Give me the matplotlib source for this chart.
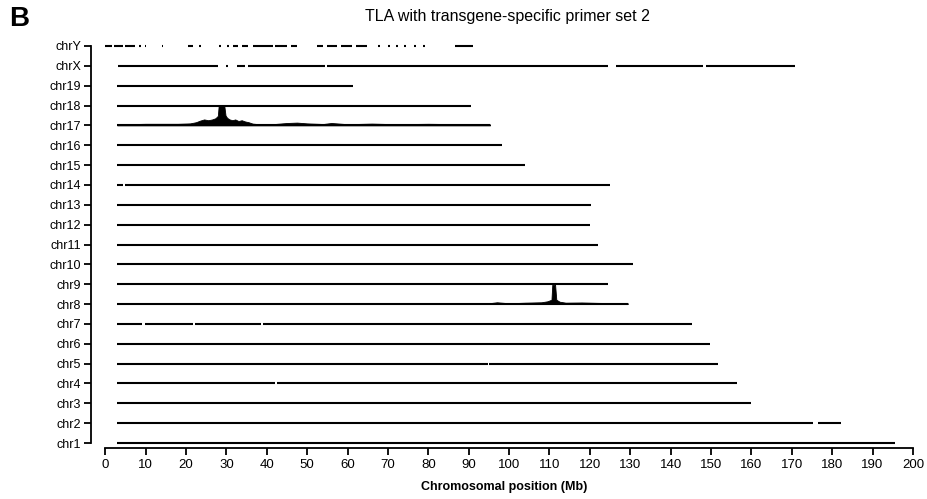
import matplotlib.pyplot as plt

plt.rcParams['font.family'] = ['Liberation Sans', 'DejaVu Sans']

chroms = ['chr1', 'chr2', 'chr3', 'chr4', 'chr5', 'chr6', 'chr7', 'chr8', 'chr9', 'chr10',
          'chr11', 'chr12', 'chr13', 'chr14', 'chr15', 'chr16', 'chr17', 'chr18', 'chr19',
          'chrX', 'chrY']

# covered segments (Mb) per chromosome
segments = {
    'chr1': [(3.0, 195.5)],
    'chr2': [(3.0, 175.3), (176.6, 182.1)],
    'chr3': [(3.0, 160.0)],
    'chr4': [(3.0, 42.0), (42.5, 156.5)],
    'chr5': [(3.0, 94.7), (95.1, 151.8)],
    'chr6': [(3.0, 149.7)],
    'chr7': [(3.0, 9.2), (9.8, 21.7), (22.2, 38.6), (39.0, 145.4)],
    'chr8': [(3.0, 129.4)],
    'chr9': [(3.0, 124.6)],
    'chr10': [(3.0, 130.7)],
    'chr11': [(3.0, 122.1)],
    'chr12': [(3.0, 120.1)],
    'chr13': [(3.0, 120.4)],
    'chr14': [(3.0, 4.3), (5.0, 124.9)],
    'chr15': [(3.0, 104.0)],
    'chr16': [(3.0, 98.2)],
    'chr17': [(3.0, 95.3)],
    'chr18': [(3.0, 90.7)],
    'chr19': [(3.0, 61.4)],
    'chrX': [(3.2, 28.0), (29.8, 30.3), (32.7, 34.7), (35.4, 54.5), (55.0, 124.5),
             (126.4, 148.0), (148.7, 170.8)],
    'chrY': [(0.0, 1.8), (2.1, 4.5), (5.0, 7.4), (8.5, 8.9), (9.8, 10.2), (14.0, 14.4),
             (20.5, 21.8), (23.3, 23.7), (28.3, 28.7), (30.2, 30.6), (31.7, 33.0),
             (34.0, 35.4), (36.6, 41.5), (42.0, 45.0), (46.0, 47.5), (52.5, 54.0),
             (55.0, 57.5), (58.5, 61.0), (62.0, 64.8), (67.5, 68.0), (70.0, 70.4),
             (72.0, 72.4), (74.0, 74.4), (76.5, 76.9), (78.8, 79.2), (86.6, 91.0)],
}

# signal above baseline (fraction of row spacing)
chr17_pos = [3, 10, 18, 21, 22.5, 23.5, 24.5, 25.5, 26.5, 27.3, 27.9, 28.1, 29.5, 29.8, 30.2,
             30.8, 31.5, 32.2, 33.0, 33.8, 34.6, 35.5, 36.5, 38, 42, 45, 47.5, 50, 54,
             56, 60, 66, 72, 80, 88, 95.3]
chr17_sig = [0.05, 0.08, 0.08, 0.1, 0.16, 0.24, 0.3, 0.26, 0.3, 0.36, 0.48, 0.98, 0.98, 0.5, 0.38,
             0.3, 0.26, 0.3, 0.22, 0.26, 0.2, 0.16, 0.09, 0.06, 0.07, 0.12, 0.14, 0.1, 0.07,
             0.12, 0.06, 0.09, 0.06, 0.08, 0.06, 0.05]

chr8_pos = [3, 95, 97, 100, 104, 108, 109.5, 110.5, 110.7, 111.4, 111.7, 112.5, 114, 118, 122, 129.4]
chr8_sig = [0.04, 0.04, 0.09, 0.04, 0.07, 0.09, 0.14, 0.22, 0.97, 0.97, 0.22, 0.12, 0.07, 0.08, 0.06, 0.04]

signal = {'chr17': (chr17_pos, chr17_sig), 'chr8': (chr8_pos, chr8_sig)}

xticks = list(range(0, 201, 10))

fig = plt.figure(figsize=(9.27, 4.99), dpi=100)
ax = fig.add_axes([0.0982, 0.1022, 0.891, 0.8216])

for i, c in enumerate(chroms):
    for a, b in segments[c]:
        ax.plot([a, b], [i, i], color='black', lw=1.5, solid_capstyle='butt')
    if c in signal:
        px, py = signal[c]
        ax.fill_between(px, i, [i + v for v in py], color='black', lw=0.6)

ax.set_xlim(-3.5, 201)
ax.set_ylim(-0.25, 20.4)
ax.set_xticks(xticks)
ax.set_yticks(range(len(chroms)))
ax.set_yticklabels(chroms)
ax.tick_params(axis='both', direction='out', length=5, width=1.3, pad=3)
ax.tick_params(axis='x', labelsize=9.5)
ax.tick_params(axis='y', labelsize=9, pad=2)
for s in ['top', 'right']:
    ax.spines[s].set_visible(False)
ax.spines['left'].set_linewidth(1.3)
ax.spines['bottom'].set_linewidth(1.3)
ax.spines['bottom'].set_bounds(0, 200)
ax.spines['left'].set_bounds(0, 20)
ax.set_xlabel('Chromosomal position (Mb)', fontsize=9, fontweight='bold', labelpad=7)

fig.text(0.547, 0.966, 'TLA with transgene-specific primer set 2', fontsize=11.5,
         ha='center', va='center')
fig.text(0.010, 0.962, 'B', fontsize=20, fontweight='bold', ha='left', va='center')

fig.savefig('out.png', dpi=100)
